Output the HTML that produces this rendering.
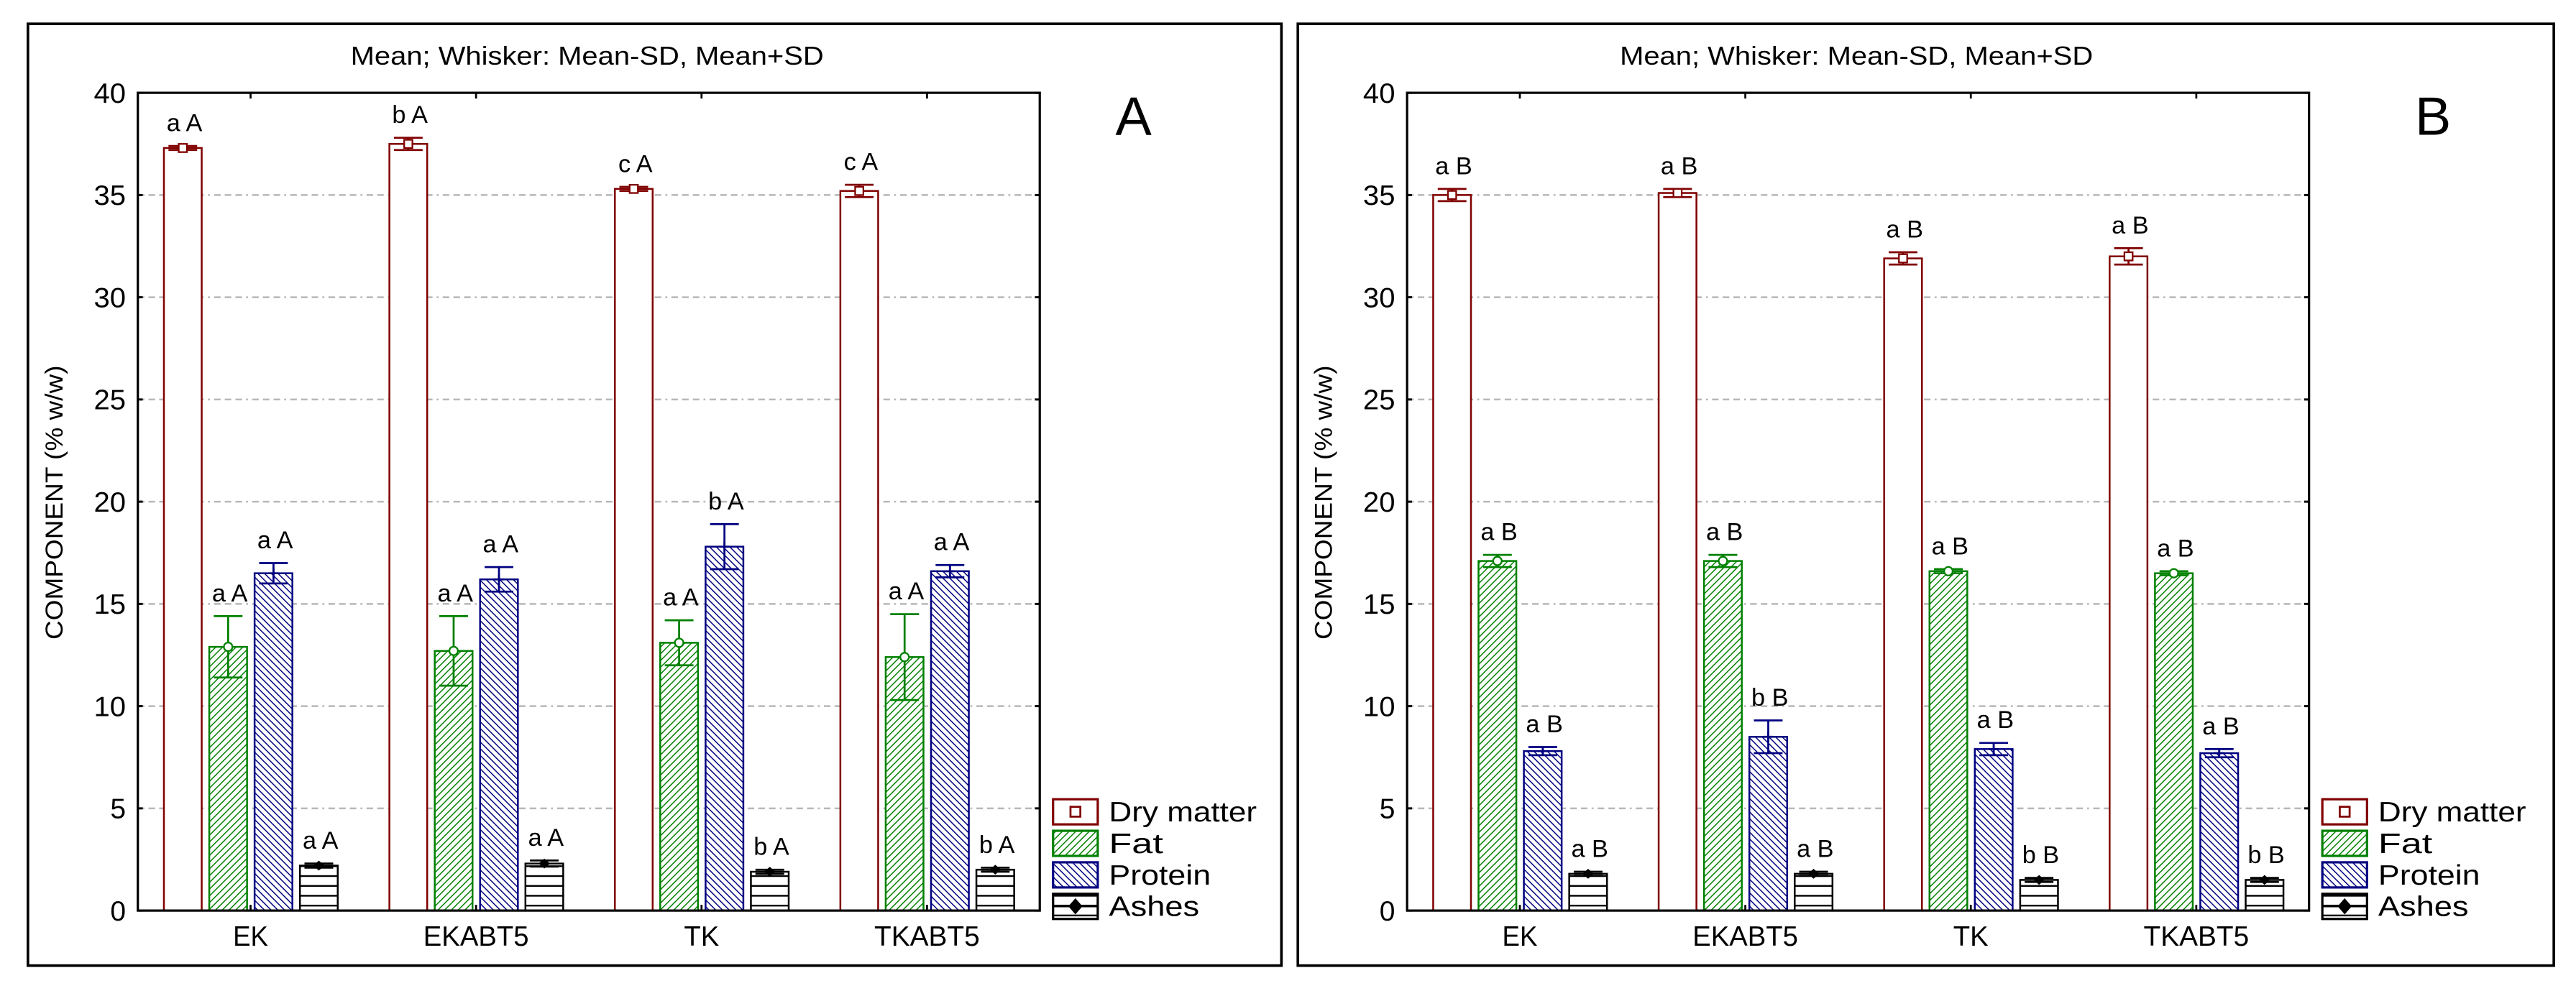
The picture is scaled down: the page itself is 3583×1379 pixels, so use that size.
<!DOCTYPE html>
<html><head><meta charset="utf-8"><style>
html,body{margin:0;padding:0;background:#fff;}
svg{display:block;}
text{font-family:"Liberation Sans",Arial,sans-serif;}
</style></head><body>
<svg id="chart" xmlns="http://www.w3.org/2000/svg" width="3583" height="1379" viewBox="0 0 1568 603.46">
<defs>
<pattern id="pFat" patternUnits="userSpaceOnUse" width="2.9" height="2.9" patternTransform="rotate(45)">
<rect width="2.9" height="2.9" fill="#fff"/><line x1="0" y1="0" x2="0" y2="2.9" stroke="#008000" stroke-width="1.3"/></pattern>
<pattern id="pProt" patternUnits="userSpaceOnUse" width="2.9" height="2.9" patternTransform="rotate(-45)">
<rect width="2.9" height="2.9" fill="#fff"/><line x1="0" y1="0" x2="0" y2="2.9" stroke="#000080" stroke-width="1.3"/></pattern>
<pattern id="pAsh" patternUnits="userSpaceOnUse" width="6" height="6">
<rect width="6" height="6" fill="#fff"/><line x1="0" y1="5.5" x2="6" y2="5.5" stroke="#000" stroke-width="1.1"/></pattern>
</defs>
</svg>
<script>
const categories = ["EK","EKABT5","TK","TKABT5"];
const seriesNames = ["Dry matter","Fat","Protein","Ashes"];
const yTicks = [0,5,10,15,20,25,30,35,40];
// Panel A means / SD
const meanA_dry = [37.3,37.5,35.3,35.2];
const sdA_dry = [0.1,0.3,0.1,0.3];
const meanA_fat = [12.9,12.7,13.1,12.4];
const sdA_fat = [1.5,1.7,1.1,2.1];
const meanA_prot = [16.5,16.2,17.8,16.6];
const sdA_prot = [0.5,0.6,1.1,0.3];
const meanA_ash = [2.2,2.3,1.9,2.0];
const sdA_ash = [0.1,0.15,0.1,0.1];
const lblA_dry = ["a A","b A","c A","c A"];
const lblA_fat = ["a A","a A","a A","a A"];
const lblA_prot = ["a A","a A","b A","a A"];
const lblA_ash = ["a A","a A","b A","b A"];
// Panel B
const meanB_dry = [35.0,35.1,31.9,32.0];
const sdB_dry = [0.3,0.2,0.3,0.4];
const meanB_fat = [17.1,17.1,16.6,16.5];
const sdB_fat = [0.3,0.3,0.1,0.1];
const meanB_prot = [7.8,8.5,7.9,7.7];
const sdB_prot = [0.2,0.8,0.3,0.2];
const meanB_ash = [1.8,1.8,1.5,1.5];
const sdB_ash = [0.1,0.1,0.1,0.1];
const lblB_dry = ["a B","a B","a B","a B"];
const lblB_fat = ["a B","a B","a B","a B"];
const lblB_prot = ["a B","b B","a B","a B"];
const lblB_ash = ["a B","a B","b B","b B"];

const NS="http://www.w3.org/2000/svg";
const svg=document.getElementById('chart');
function mk(tag,attrs,parent,txt){const e=document.createElementNS(NS,tag);for(const k in attrs)e.setAttribute(k,attrs[k]);if(txt!==undefined)e.textContent=txt;(parent||svg).appendChild(e);return e;}

const colors=["#800000","#008000","#000080","#000000"];
const fills=["#fff","url(#pFat)","url(#pProt)","url(#pAsh)"];

function panel(cfg){
  const g=mk('g',{});
  
  
  const L=cfg.left,R=cfg.left+549,T=56.5,B=554.5;
  const y=v=>B-(v/40)*(B-T);
  const gw=(R-L)/categories.length;
  const fr=mk('rect',{x:cfg.fx,y:14.5,width:cfg.fw,height:573.5,fill:'none',stroke:'#000','stroke-width':1.6},g);
  
  
  const tt=mk('text',{x:(L+R)/2-1,y:39.4,'font-size':16,'text-anchor':'middle',textLength:288,lengthAdjust:'spacingAndGlyphs'},g,'Mean;  Whisker: Mean-SD, Mean+SD');
  
  
  const pl=mk('text',{x:cfg.letterX,y:82,'font-size':33,'text-anchor':'middle'},g,cfg.letter);
  
  
  yTicks.forEach(t=>{
    if(t>0&&t<40){const gl=mk('line',{x1:L,x2:R,y1:y(t),y2:y(t),stroke:'#b8b8b8','stroke-width':1.1,'stroke-dasharray':'4 2.5 4 2.5 4 2.5 1.2 2.5'},g);
    
    }
    const tk=mk('text',{x:76.6+(L-83.9),y:y(t)+6,'font-size':17,'text-anchor':'end',textLength:t<10?9.5:19.5,lengthAdjust:'spacingAndGlyphs'},g,String(t));
    
    
    mk('line',{x1:L,x2:L+3,y1:y(t),y2:y(t),stroke:'#000','stroke-width':1.3},g);
    mk('line',{x1:R,x2:R-3,y1:y(t),y2:y(t),stroke:'#000','stroke-width':1.3},g);
  });
  const yt=mk('text',{x:0,y:0,'font-size':15,'text-anchor':'middle',transform:`translate(${38+(L-83.9)},306) rotate(-90)`,textLength:167,lengthAdjust:'spacingAndGlyphs'},g,'COMPONENT (% w/w)');
  
  
  const series=[[cfg.md,cfg.sd_d,cfg.ld],[cfg.mf,cfg.sd_f,cfg.lf],[cfg.mp,cfg.sd_p,cfg.lp],[cfg.ma,cfg.sd_a,cfg.la]];
  categories.forEach((c,i)=>{
    const cx=L+gw*(i+0.5);
    const x0=cx-52.75;
    series.forEach((s,k)=>{
      const bx=x0+k*27.6, bw=23, m=s[0][i], sd=s[1][i];
      const r=mk('rect',{x:bx,y:y(m),width:bw,height:B-y(m),fill:fills[k],stroke:colors[k],'stroke-width':1.1},g);
      
      
      const mx=bx+bw/2, ct=0.38*bw;
      const eb=mk('path',{d:`M${mx},${y(m+sd)}V${y(m-sd)}M${mx-ct},${y(m+sd)}H${mx+ct}M${mx-ct},${y(m-sd)}H${mx+ct}`,stroke:colors[k],'stroke-width':1.2,fill:'none'},g);
      
      
      if(k===0)mk('rect',{x:mx-2.5,y:y(m)-2.5,width:5,height:5,fill:'#fff',stroke:colors[k],'stroke-width':1},g);
      if(k===1)mk('circle',{cx:mx,cy:y(m),r:2.6,fill:'#fff',stroke:colors[k],'stroke-width':1},g);
      if(k===2)mk('path',{d:`M${mx-3},${y(m)}H${mx+3}M${mx},${y(m)-3}V${y(m)+3}`,stroke:colors[k],'stroke-width':1.2},g);
      if(k===3)mk('path',{d:`M${mx},${y(m)-3}L${mx+3.5},${y(m)}L${mx},${y(m)+3}L${mx-3.5},${y(m)}Z`,fill:'#000'},g);
      const lb=mk('text',{x:mx+1,y:y(m+sd)-9,'font-size':15,'text-anchor':'middle'},g,s[2][i]);
      
      
    });
    mk('line',{x1:cx,x2:cx,y1:T,y2:T+3.5,stroke:'#000','stroke-width':1.2},g);
    mk('line',{x1:cx,x2:cx,y1:B,y2:B-3.5,stroke:'#000','stroke-width':1.2},g);
    const xl=mk('text',{x:cx,y:576,'font-size':17,'text-anchor':'middle',textLength:c.length*10.7,lengthAdjust:'spacingAndGlyphs'},g,c);
    
    
  });
  const ax=mk('rect',{x:L,y:T,width:R-L,height:B-T,fill:'none',stroke:'#000','stroke-width':1.4},g);
  
  
  const lx=R+8.1;
  seriesNames.forEach((n,k)=>{
    const ly=486.7+k*19.2;
    const lr=mk('rect',{x:lx,y:ly,width:27.2,height:15.3,fill:fills[k],stroke:colors[k],'stroke-width':1.4},g);
    
    
    const mx=lx+13.6,my=ly+7.6;
    if(k===0)mk('rect',{x:mx-3,y:my-3,width:6,height:6,fill:'#fff',stroke:colors[0],'stroke-width':1.2},g);
    if(k===3)mk('path',{d:`M${lx},${my}H${lx+27.2}M${mx},${my-4}L${mx+3.5},${my}L${mx},${my+4}L${mx-3.5},${my}Z`,stroke:'#000','stroke-width':1.2,fill:'#000'},g);
    const lt=mk('text',{x:lx+34,y:ly+13.5,'font-size':17,textLength:[90,33,62,55][k],lengthAdjust:'spacingAndGlyphs'},g,n);
    
    
  });
}
panel({letter:'A',left:83.9,fx:17,fw:763,letterX:690,
  md:meanA_dry,sd_d:sdA_dry,ld:lblA_dry,mf:meanA_fat,sd_f:sdA_fat,lf:lblA_fat,
  mp:meanA_prot,sd_p:sdA_prot,lp:lblA_prot,ma:meanA_ash,sd_a:sdA_ash,la:lblA_ash});
panel({letter:'B',left:856.5,fx:790,fw:764.5,letterX:1481,
  md:meanB_dry,sd_d:sdB_dry,ld:lblB_dry,mf:meanB_fat,sd_f:sdB_fat,lf:lblB_fat,
  mp:meanB_prot,sd_p:sdB_prot,lp:lblB_prot,ma:meanB_ash,sd_a:sdB_ash,la:lblB_ash});
</script>
</body></html>
